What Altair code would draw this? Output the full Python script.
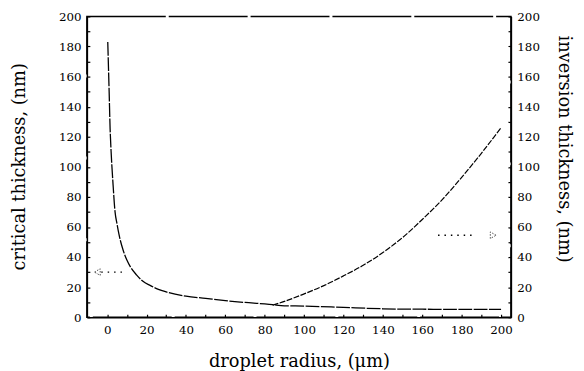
import altair as alt
import pandas as pd

# critical thickness (left axis), nm vs droplet radius, um
crit_x = [0.3, 1, 1.5, 2, 3, 4, 5, 6, 8, 10, 12, 15, 18, 22, 26, 30, 40, 50, 60, 70, 80, 84, 90, 100, 120, 140, 160, 200]
crit_y = [183, 150, 125, 110, 88, 70, 62, 55, 45, 38, 33, 28, 24, 21, 18.5, 16.8, 14, 12.5, 11, 9.8, 8.8, 8.3, 7.6, 7.4, 6.5, 5.6, 5.3, 5.2]
# inversion thickness (right axis)
inv_x = [84, 90, 100, 110, 120, 130, 140, 150, 160, 170, 180, 190, 200]
inv_y = [8, 10.5, 15.5, 21, 27.5, 34.5, 43, 53, 65, 78, 93, 109, 126]
# arrow annotations
arrow_tail_x1 = [-3, 168]
arrow_tail_x2 = [7.5, 186]
arrow_y = [30, 54.5]
arrow_head_x = [-5, 196]
arrow_shape = ["triangle-left", "triangle-right"]

ticks = list(range(0, 201, 10))
x_domain = [-10.3, 205]
y_domain = [0, 200]

font = "DejaVu Serif"

crit = pd.DataFrame({"x": crit_x, "y": crit_y})
inv = pd.DataFrame({"x": inv_x, "y": inv_y})
arr = pd.DataFrame({"x1": arrow_tail_x1, "x2": arrow_tail_x2, "y": arrow_y,
                    "hx": arrow_head_x, "shape": arrow_shape})

xscale = alt.Scale(domain=x_domain, nice=False, zero=False)
yscale = alt.Scale(domain=y_domain, nice=False)

label20 = "datum.value % 20 === 0 ? datum.label : ''"

xaxis = alt.Axis(values=ticks, labelExpr=label20, tickSize=alt.ExprRef("-3"),
                 title="droplet radius, (\u03bcm)", grid=False, labelFlush=False,
                 labelPadding=11, titleX=215, titleY=45, titleBaseline="middle",
                 labelOverlap=False)
yaxis_l = alt.Axis(values=ticks, labelExpr=label20, tickSize=alt.ExprRef("-3"),
                   title="critical thickness, (nm)", grid=False, labelPadding=9,
                   titleX=-68, titleY=152, titleBaseline="middle", titleAlign="center",
                   labelOverlap=False, labelFlush=False)
yaxis_r = alt.Axis(values=ticks, labelExpr=label20, tickSize=alt.ExprRef("-3"), orient="right",
                   title="inversion thickness, (nm)", grid=False, labelPadding=9,
                   titleX=53, titleY=134, titleAngle=90, titleBaseline="middle", titleAlign="center",
                   labelOverlap=False, labelFlush=False)

crit_line = alt.Chart(crit).mark_line(color="black", strokeWidth=1.3, strokeDash=[14, 1.5],
                                      interpolate="monotone").encode(
    x=alt.X("x:Q", scale=xscale, axis=xaxis),
    y=alt.Y("y:Q", scale=yscale, axis=yaxis_l),
)
tails = alt.Chart(arr).mark_rule(color="black", strokeWidth=1.3, strokeDash=[1.5, 5]).encode(
    x=alt.X("x1:Q", scale=xscale, axis=xaxis), x2="x2:Q",
    y=alt.Y("y:Q", scale=yscale, axis=yaxis_l)
)
heads = alt.Chart(arr).mark_point(color="black", filled=False, size=45, strokeWidth=1,
                                  strokeDash=[1.5, 1.5]).encode(
    x=alt.X("hx:Q", scale=xscale, axis=xaxis), y=alt.Y("y:Q", scale=yscale, axis=yaxis_l),
    shape=alt.Shape("shape:N", scale=None, legend=None)
)
left = alt.layer(crit_line, tails, heads)

right = alt.Chart(inv).mark_line(color="black", strokeWidth=1.2, strokeDash=[6, 1.5],
                                 interpolate="monotone").encode(
    x=alt.X("x:Q", scale=xscale, axis=xaxis),
    y=alt.Y("y:Q", scale=yscale, axis=yaxis_r),
)

chart = alt.layer(left, right).resolve_scale(y="independent").properties(
    width=430, height=305,
    autosize=alt.AutoSizeParams(type="none"),
    padding={"left": 80, "top": 6, "right": 66, "bottom": 52},
    background="white",
).configure_axis(
    domainColor="black", domainWidth=1.5, tickColor="black", tickWidth=1.2,
    labelFont=font, labelFontSize=12, labelColor="black",
    titleFont=font, titleFontSize=18, titleFontWeight="normal", titleColor="black",
).configure_view(stroke="black", strokeWidth=1.5, strokeDash=[80, 3])

chart.save("out.html", embed_options={"renderer": "svg", "actions": False})
